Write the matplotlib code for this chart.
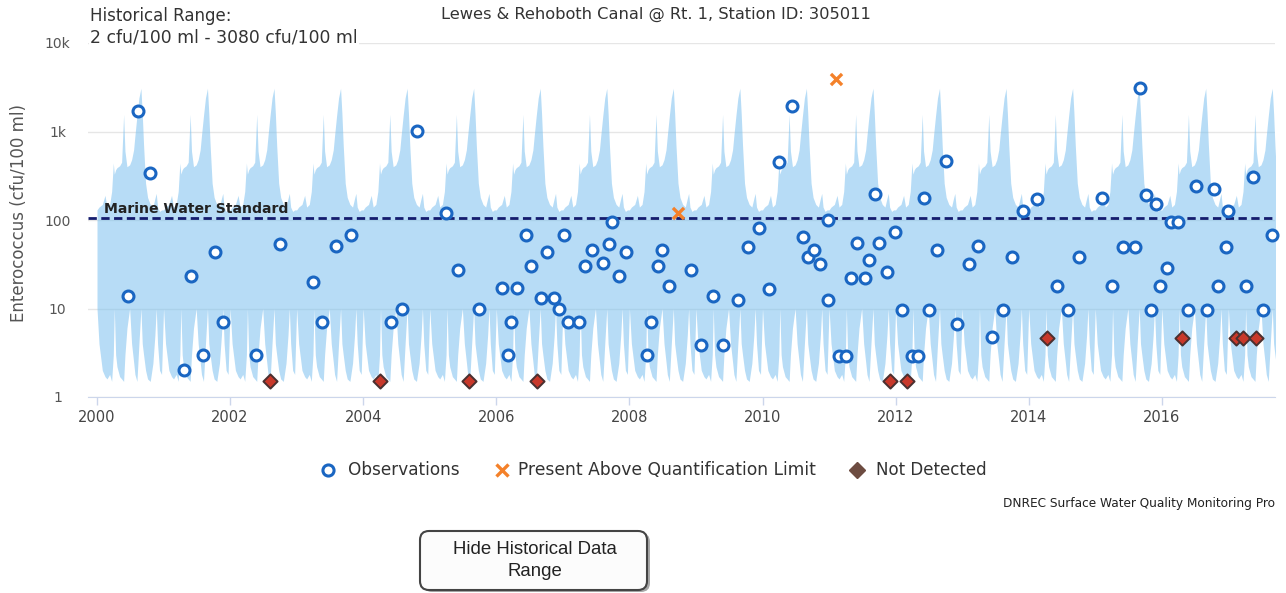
import numpy as np
import matplotlib
matplotlib.use("Agg")
import matplotlib.pyplot as plt
from matplotlib.patches import FancyBboxPatch

W, H = 1286, 593

# historical range by fraction of the year (min / max over all years)
hist_frac = [0.00, 0.03, 0.08, 0.12, 0.15, 0.19, 0.22, 0.245, 0.26, 0.28,
             0.30, 0.34, 0.37, 0.40, 0.42, 0.45, 0.49, 0.52, 0.55, 0.57,
             0.60, 0.63, 0.66, 0.68, 0.70, 0.73, 0.76, 0.80, 0.84, 0.87,
             0.89, 0.91, 0.94, 0.97]
hist_low = [10, 4, 2, 1.7, 1.6, 1.8, 1.5, 3, 10, 3,
            2.2, 1.7, 1.6, 1.5, 3, 6, 10, 4, 2.5, 1.8,
            1.5, 4, 10, 4, 3, 2, 1.6, 1.5, 2.4, 5,
            10, 4, 2, 1.8]
hist_high = [130, 140, 150, 190, 140, 150, 210, 440, 330, 370,
             390, 410, 450, 1560, 600, 400, 420, 480, 620, 900,
             1500, 2400, 3080, 1600, 700, 260, 180, 150, 140, 175,
             200, 140, 125, 130]

# sample results (decimal year, cfu/100 ml)
obs_year = [2000.47, 2000.62, 2000.80, 2001.31, 2001.41, 2001.59, 2001.77, 2001.89,
            2002.39, 2002.75, 2003.25, 2003.38, 2003.59, 2003.82, 2004.42, 2004.58,
            2004.81, 2005.24, 2005.42, 2005.74, 2006.09, 2006.18, 2006.22, 2006.31,
            2006.45, 2006.52, 2006.67, 2006.76, 2006.87, 2006.94, 2007.02, 2007.08,
            2007.24, 2007.33, 2007.44, 2007.60, 2007.69, 2007.74, 2007.84, 2007.95,
            2008.26, 2008.32, 2008.43, 2008.49, 2008.60, 2008.93, 2009.08, 2009.26,
            2009.41, 2009.63, 2009.78, 2009.95, 2010.10, 2010.25, 2010.44, 2010.61,
            2010.68, 2010.77, 2010.86, 2010.98, 2010.98, 2011.15, 2011.25, 2011.33,
            2011.42, 2011.54, 2011.60, 2011.69, 2011.75, 2011.87, 2011.99, 2012.10,
            2012.25, 2012.34, 2012.43, 2012.50, 2012.62, 2012.76, 2012.92, 2013.10,
            2013.24, 2013.45, 2013.61, 2013.75, 2013.91, 2014.12, 2014.43, 2014.59,
            2014.76, 2015.10, 2015.25, 2015.42, 2015.60, 2015.67, 2015.76, 2015.84,
            2015.91, 2015.97, 2016.08, 2016.14, 2016.24, 2016.39, 2016.51, 2016.68,
            2016.78, 2016.84, 2016.96, 2016.99, 2017.27, 2017.37, 2017.52, 2017.66]
obs_val = [14, 1720, 340, 2, 23, 3, 44, 7,
           3, 54, 20, 7, 51, 67, 7, 10,
           1020, 120, 27, 10, 17, 3, 7, 17,
           68, 30, 13, 44, 13, 10, 68, 7,
           7, 30, 46, 33, 53, 96, 23, 44,
           3, 7, 30, 46, 18, 27, 3.9, 14,
           3.9, 12.4, 49, 82, 16.6, 452, 1960, 65,
           38, 46, 32, 12.4, 99, 2.9, 2.9, 22,
           55, 22, 35, 195, 55, 26, 74, 9.6,
           2.9, 2.9, 176, 9.6, 46, 464, 6.6, 32,
           51, 4.8, 9.6, 38, 128, 171, 18, 9.6,
           38, 176, 18, 49, 49, 3080, 190, 9.6,
           150, 18, 29, 94, 94, 9.6, 241, 9.6,
           223, 18, 49, 125, 18, 305, 9.6, 68]

aql_year = [2008.73, 2011.11]
aql_val = [119, 3940]

nd_year = [2002.60, 2004.25, 2005.59, 2006.61, 2011.92, 2012.17,
           2014.27, 2016.30, 2017.11, 2017.22, 2017.41]
nd_val = [1.5, 1.5, 1.5, 1.5, 1.5, 1.5, 4.7, 4.7, 4.7, 4.7, 4.7]

marine_standard = 104
ytick_vals = [1, 10, 100, 1000, 10000]
ytick_labels = ["1", "10", "100", "1k", "10k"]
xtick_years = list(range(2000, 2018, 2))

TXT = "#333333"
BLUE = "#1a66c2"
ORANGE = "#f4812a"
BAND = "#7cc0ef"

fig = plt.figure(figsize=(W / 100, H / 100), dpi=100)
ax = fig.add_axes([88 / W, 1 - 397 / H, (1275 - 88) / W, (397 - 43) / H])
ax.set_yscale("log")
ax.set_ylim(1, 10000)
ax.set_xlim(2000 - 9 / 66.55, 2000 + (1275 - 97) / 66.55)

# band repeated for every year on the axis
years = np.arange(2000, 2018)
bx = np.concatenate([y + np.array(hist_frac) for y in years] + [[2018.0]])
blo = np.concatenate([np.tile(hist_low, len(years)), [hist_low[0]]])
bhi = np.concatenate([np.tile(hist_high, len(years)), [hist_high[0]]])
ax.fill_between(bx, blo, bhi, color=BAND, alpha=0.55, lw=0, zorder=1)

ax.axhline(marine_standard, color="#141c6e", lw=2, ls=(0, (3, 1.6)), zorder=2)
ax.annotate("Marine Water Standard", xy=(0, marine_standard),
            xycoords=("axes fraction", "data"), xytext=(11.5, 4.3),
            textcoords="offset points", va="baseline", ha="left",
            fontsize=10.1, fontweight="bold", color="#222222", zorder=3)

ax.scatter(obs_year, obs_val, s=62, facecolor="white", edgecolor=BLUE,
           linewidth=2.2, zorder=5, clip_on=False)
ax.scatter(aql_year, aql_val, s=64, marker="x", color=ORANGE, linewidth=2.4, zorder=5)
ax.scatter(nd_year, nd_val, s=52, marker="D", facecolor="#c8382a",
           edgecolor="#4a3030", linewidth=1.4, zorder=5)

ax.set_yticks(ytick_vals, ytick_labels)
ax.minorticks_off()
ax.tick_params(axis="y", length=0, pad=22, labelsize=10, labelcolor="#555555")
for t in ax.get_yticklabels():
    t.set_ha("center")
ax.set_xticks(xtick_years, [str(y) for y in xtick_years])
ax.tick_params(axis="x", length=6, width=1, color="#ccd6eb", pad=3,
               labelsize=10.5, labelcolor="#444444")
ax.grid(axis="y", color="#e6e6e6", lw=1, zorder=0)
ax.set_axisbelow(True)
for s in ["top", "left", "right"]:
    ax.spines[s].set_visible(False)
ax.spines["bottom"].set_color("#ccd6eb")

fig.text(19 / W, 1 - 213 / H, "Enterococcus (cfu/100 ml)", rotation=90,
         ha="center", va="center", fontsize=12, color="#555555")
fig.text(656 / W, 1 - 14 / H, "Lewes & Rehoboth Canal @ Rt. 1, Station ID: 305011",
         ha="center", va="center", fontsize=11.7, color=TXT)
fig.text(90 / W, 1 - 16 / H, "Historical Range:", ha="left", va="center",
         fontsize=12, color=TXT)
fig.text(90 / W, 1 - 37 / H, "2 cfu/100 ml - 3080 cfu/100 ml", ha="left",
         va="center", fontsize=12.4, color=TXT,
         bbox=dict(facecolor="white", edgecolor="none", pad=1))

# legend, credits and button laid out in pixel units
lay = fig.add_axes([0, 0, 1, 1])
lay.set_xlim(0, W)
lay.set_ylim(H, 0)
lay.axis("off")

lay.plot([328], [470], "o", ms=8, mfc="white", mec=BLUE, mew=2.2)
lay.text(348, 470, "Observations", va="center", ha="left", fontsize=12.2, color=TXT)
lay.plot([502], [470], "x", ms=8, color=ORANGE, mew=2.4)
lay.text(518, 470, "Present Above Quantification Limit", va="center", ha="left",
         fontsize=12.3, color=TXT)
lay.plot([857], [470], "D", ms=8, color="#6d4c41")
lay.text(876, 470, "Not Detected", va="center", ha="left", fontsize=12, color=TXT)

# credits line runs up to the chart's right edge
lay.text(1003, 504, "DNREC Surface Water Quality Monitoring Pro", va="center",
         ha="left", fontsize=8.7, color="#222222")

shadow = FancyBboxPatch((423, 533), 227, 59, boxstyle="round,pad=0,rounding_size=9",
                        facecolor="#8a8a8a", edgecolor="none", alpha=0.75)
lay.add_patch(shadow)
button = FancyBboxPatch((420, 531), 227, 59, boxstyle="round,pad=0,rounding_size=9",
                        facecolor="#fcfcfc", edgecolor="#444444", lw=1.5)
lay.add_patch(button)
lay.text(535, 560.5, "Hide Historical Data\nRange", ha="center", va="center",
         fontsize=13.4, family="Liberation Sans", color="#222222", linespacing=1.42)

fig.savefig("out.png", dpi=100)
